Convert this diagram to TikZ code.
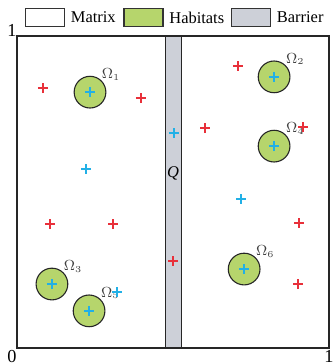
\documentclass[tikz,border=0pt]{standalone}
\usepackage{fontspec}
\setmainfont{Liberation Serif}
\usepackage{tikz}
\usetikzlibrary{positioning}
\definecolor{habitatGreen}{HTML}{B6D56C}
\definecolor{barrierGray}{HTML}{CDD0D8}
\definecolor{crossRed}{HTML}{E8303A}
\definecolor{crossCyan}{HTML}{22B0E6}

\begin{document}
\begin{tikzpicture}[x=6cm,y=6cm]
    \tikzset{
      lbox/.style={draw=black!80, line width=0.6pt, minimum width=0.75cm, minimum height=0.36cm, inner sep=0pt},
      ltext/.style={font=\fontsize{9}{10}\selectfont, anchor=west, inner sep=1pt},
      habitat/.style={circle, draw=black!85, line width=0.6pt, fill=habitatGreen, minimum size=0.61cm, inner sep=0pt},
      omlabel/.style={font=\fontsize{8}{9}\selectfont, inner sep=0pt, text=black!75},
      corner/.style={font=\fontsize{10}{11}\selectfont, inner sep=0pt},
      rcross/.style={draw=crossRed, line width=0.75pt},
      ccross/.style={draw=crossCyan, line width=0.75pt}
    }
    \useasboundingbox (-0.0545,-0.0513) rectangle (1.0128,1.1154);

    % Legend
    \node[lbox, fill=white] (legMatrix) at (0.0897,1.0593) {};
    \node[ltext, right=2pt of legMatrix] (txtMatrix) {Matrix};
    \node[lbox, fill=habitatGreen] (legHabitat) at (0.4054,1.0593) {};
    \node[ltext, right=2pt of legHabitat] (txtHabitat) {Habitats};
    \node[lbox, fill=barrierGray] (legBarrier) at (0.75,1.0593) {};
    \node[ltext, right=2pt of legBarrier] (txtBarrier) {Barrier};

    % Domain and barrier
    \draw[black!85, line width=0.8pt] (0,0) rectangle (1,1);
    \draw[black!85, line width=0.6pt, fill=barrierGray] (0.476,0) rectangle (0.526,1);
    \node[font=\fontsize{9}{10}\selectfont\itshape] (labQ) at (0.5,0.561) {Q};

    % Axis marks
    \node[corner] (tickTop) at (-0.016,1.019) {1};
    \node[corner] (tickZero) at (-0.016,-0.026) {0};
    \node[corner] (tickRight) at (1.0,-0.026) {1};

    % Habitats
    \foreach \n/\x/\y in {1/0.234/0.82, 2/0.824/0.869, 3/0.112/0.205,
                          4/0.824/0.647, 5/0.231/0.119, 6/0.728/0.253} {
      \node[habitat, label={[omlabel]45:$\Omega_{\scriptscriptstyle\n}$}] (hab\n) at (\x,\y) {};
      \draw[ccross] (\x-0.016,\y) -- (\x+0.016,\y) (\x,\y-0.016) -- (\x,\y+0.016);
    }

    % Red points
    \foreach \x/\y in {0.083/0.833, 0.397/0.801, 0.708/0.904, 0.603/0.705,
                       0.917/0.708, 0.106/0.397, 0.308/0.397, 0.5/0.279,
                       0.904/0.401, 0.901/0.205} {
      \draw[rcross] (\x-0.016,\y) -- (\x+0.016,\y) (\x,\y-0.016) -- (\x,\y+0.016);
    }

    % Cyan points
    \foreach \x/\y in {0.221/0.574, 0.503/0.689, 0.718/0.478, 0.321/0.179} {
      \draw[ccross] (\x-0.016,\y) -- (\x+0.016,\y) (\x,\y-0.016) -- (\x,\y+0.016);
    }
  \end{tikzpicture}
\end{document}
